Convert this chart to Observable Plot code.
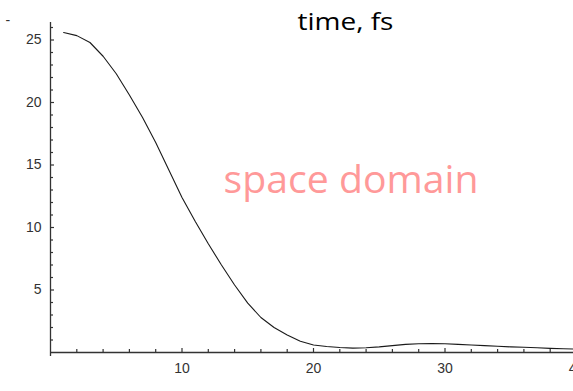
<!DOCTYPE html>
<html>
<head>
<meta charset="utf-8">
<script src="https://cdn.jsdelivr.net/npm/d3@7"></script>
<script src="https://cdn.jsdelivr.net/npm/@observablehq/plot@0.6"></script>
<style>
  html, body { margin: 0; padding: 0; background: #fff; overflow: hidden; }
  #chart svg { display: block; }
</style>
</head>
<body>
<div id="chart"></div>
<script>
// Pulse envelope sampled once per femtosecond
const times = [1, 2, 3, 4, 5, 6, 7, 8, 9, 10,
  11, 12, 13, 14, 15, 16, 17, 18, 19, 20,
  21, 22, 23, 24, 25, 26, 27, 28, 29, 30,
  31, 32, 33, 34, 35, 36, 37, 38, 39, 40];
const amplitude = [25.6, 25.35, 24.8, 23.7, 22.3, 20.6, 18.8, 16.8, 14.6, 12.4,
  10.5, 8.7, 7.0, 5.4, 3.95, 2.8, 2.0, 1.4, 0.9, 0.6,
  0.48, 0.4, 0.35, 0.38, 0.45, 0.55, 0.65, 0.7, 0.72, 0.7,
  0.65, 0.6, 0.55, 0.5, 0.45, 0.42, 0.38, 0.33, 0.3, 0.28];

// Tick positions
const xMajorTicks = [10, 20, 30, 40];
const xMinorTicks = [2, 4, 6, 8, 12, 14, 16, 18, 22, 24, 26, 28, 32, 34, 36, 38];
const yMajorTicks = [5, 10, 15, 20, 25];
const yMinorTicks = [1, 2, 3, 4, 6, 7, 8, 9, 11, 12, 13, 14, 16, 17, 18, 19, 21, 22, 23, 24, 26];

// Annotations
const axisLabel = "time, fs";
const axisLabelX = [22.43];
const panelLabel = "space domain";
const panelLabelAt = [{x: 22.85, y: 13.7}];

// Frame geometry
const W = 573, H = 391;
const M = {left: 50, right: -3, top: 22, bottom: 39};
const xDomain = [0, 40];
const yDomain = [0, 26.4];

// Inward tick lengths, in pixels, converted to data units
const xPerPx = (xDomain[1] - xDomain[0]) / (W - M.left - M.right);
const yPerPx = (yDomain[1] - yDomain[0]) / (H - M.top - M.bottom);
const majorPx = 4, minorPx = 3;

const axisColor = "#333";
const handFont = "'Comic Sans MS', 'Open Sans', sans-serif";

const chart = Plot.plot({
  width: W,
  height: H,
  marginLeft: M.left,
  marginRight: M.right,
  marginTop: M.top,
  marginBottom: M.bottom,
  style: {background: "#fff", fontFamily: "'Liberation Sans', Arial, sans-serif", fontSize: "14px", color: "#333"},
  x: {domain: xDomain, ticks: xMajorTicks, tickSize: 0, tickPadding: 11, label: null},
  y: {domain: yDomain, ticks: yMajorTicks, tickSize: 0, tickPadding: 9, label: null},
  marks: [
    // axis lines
    Plot.ruleY([0], {stroke: axisColor, strokeWidth: 1.3}),
    Plot.ruleX([0], {stroke: axisColor, strokeWidth: 1.3, insetBottom: -4}),
    // inward ticks along the x axis
    Plot.ruleX(xMajorTicks, {x: d => d, y1: 0, y2: majorPx * yPerPx, stroke: axisColor, strokeWidth: 1.2}),
    Plot.ruleX(xMinorTicks, {x: d => d, y1: 0, y2: minorPx * yPerPx, stroke: axisColor, strokeWidth: 1.2}),
    // inward ticks along the y axis
    Plot.ruleY(yMajorTicks, {y: d => d, x1: 0, x2: majorPx * xPerPx, stroke: axisColor, strokeWidth: 1.2}),
    Plot.ruleY(yMinorTicks, {y: d => d, x1: 0, x2: minorPx * xPerPx, stroke: axisColor, strokeWidth: 1.2}),
    // the envelope
    Plot.line(times, {x: times, y: amplitude, stroke: "#1a1a1a", strokeWidth: 1.1}),
    // labels
    Plot.text(axisLabelX, {x: d => d, frameAnchor: "top", text: () => axisLabel, fontSize: 24, fontFamily: handFont, fill: "#000", lineAnchor: "middle"}),
    Plot.text(panelLabelAt, {x: "x", y: "y", text: () => panelLabel, fontSize: 38, fontFamily: handFont, fill: "#ff9999", lineAnchor: "middle"}),
    Plot.text(["-"], {frameAnchor: "top-left", dx: -45, dy: -7, text: d => d, fontSize: 14, fill: "#333"})
  ]
});

// Fit the hand-lettered labels to their measured widths
d3.select(chart).selectAll("text").each(function () {
  if (this.textContent === axisLabel) {
    this.setAttribute("textLength", 96);
    this.setAttribute("lengthAdjust", "spacingAndGlyphs");
  } else if (this.textContent === panelLabel) {
    this.setAttribute("textLength", 255);
    this.setAttribute("lengthAdjust", "spacingAndGlyphs");
  }
});

document.getElementById("chart").append(chart);
</script>
</body>
</html>
